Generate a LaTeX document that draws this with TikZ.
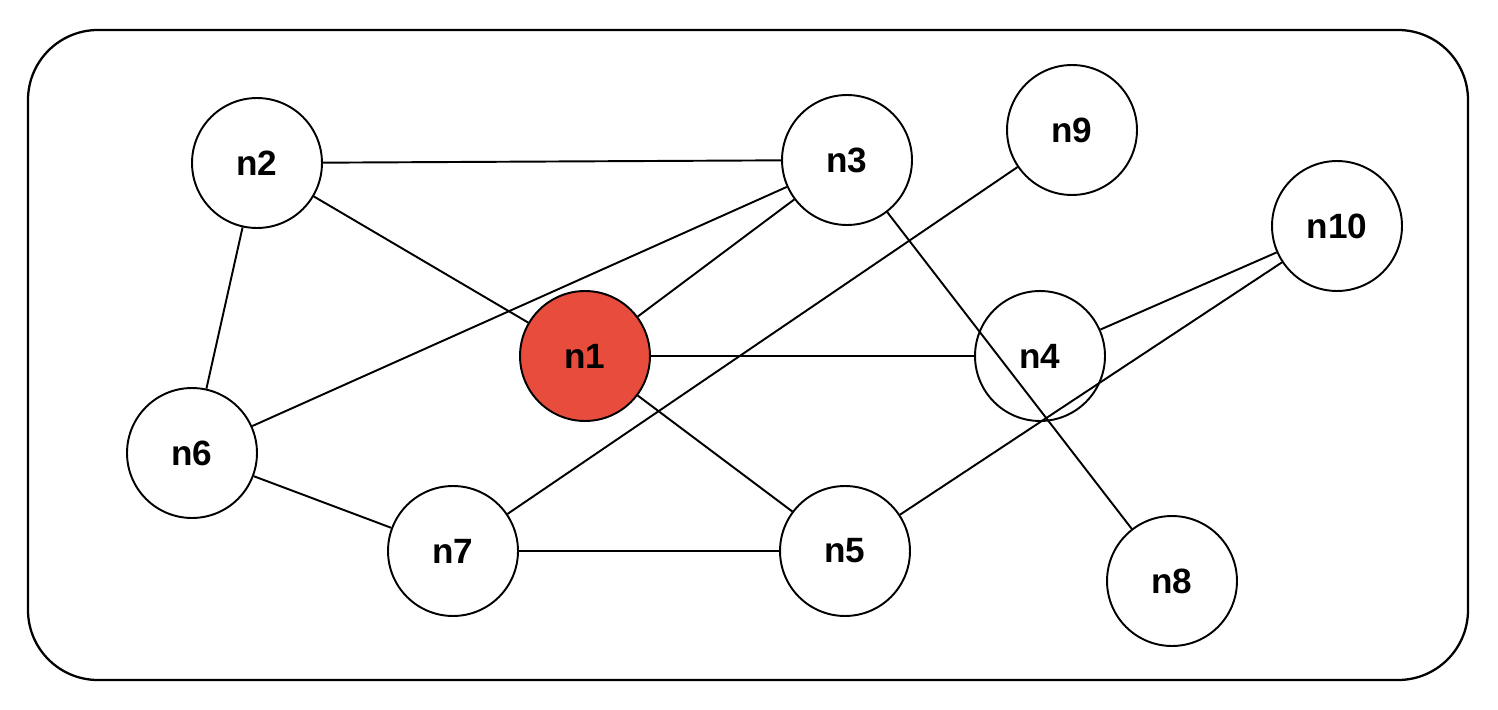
\documentclass[tikz,border=0pt]{standalone}
\usepackage{fontspec}
\setmainfont{Liberation Sans}
\definecolor{hot}{RGB}{231,76,60}
\begin{document}
\begin{tikzpicture}[x=0.02cm,y=-0.02cm,
  nd/.style={circle,draw,line width=1.1pt,minimum size=2.6cm,inner sep=0pt,fill=white,font=\fontsize{20}{24}\selectfont\bfseries},
  ed/.style={line width=1.1pt}]
\useasboundingbox (0,0) rectangle (1498,710);
\draw[line width=1.3pt,rounded corners=1.4cm] (28,30) rectangle (1468,680);
\node[nd] (n2) at (257,163) {n2};
\node[nd] (n3) at (847,160) {n3};
\node[nd] (n9) at (1072,130) {n9};
\node[nd] (n10) at (1337,226) {n10};
\node[nd,fill=hot] (n1) at (585,356) {n1};
\node[nd] (n4) at (1040,356) {n4};
\node[nd] (n6) at (192,453) {n6};
\node[nd] (n7) at (453,551) {n7};
\node[nd] (n5) at (845,551) {n5};
\node[nd] (n8) at (1172,581) {n8};
\begin{scope}[on background layer/.style={}]
\foreach \a/\b in {n2/n3,n2/n1,n2/n6,n6/n3,n3/n1,n3/n8,n9/n7,n10/n4,n10/n5,n1/n4,n1/n5,n6/n7,n7/n5}
  \draw[ed] (\a) -- (\b);
\end{scope}
\end{tikzpicture}
\end{document}
